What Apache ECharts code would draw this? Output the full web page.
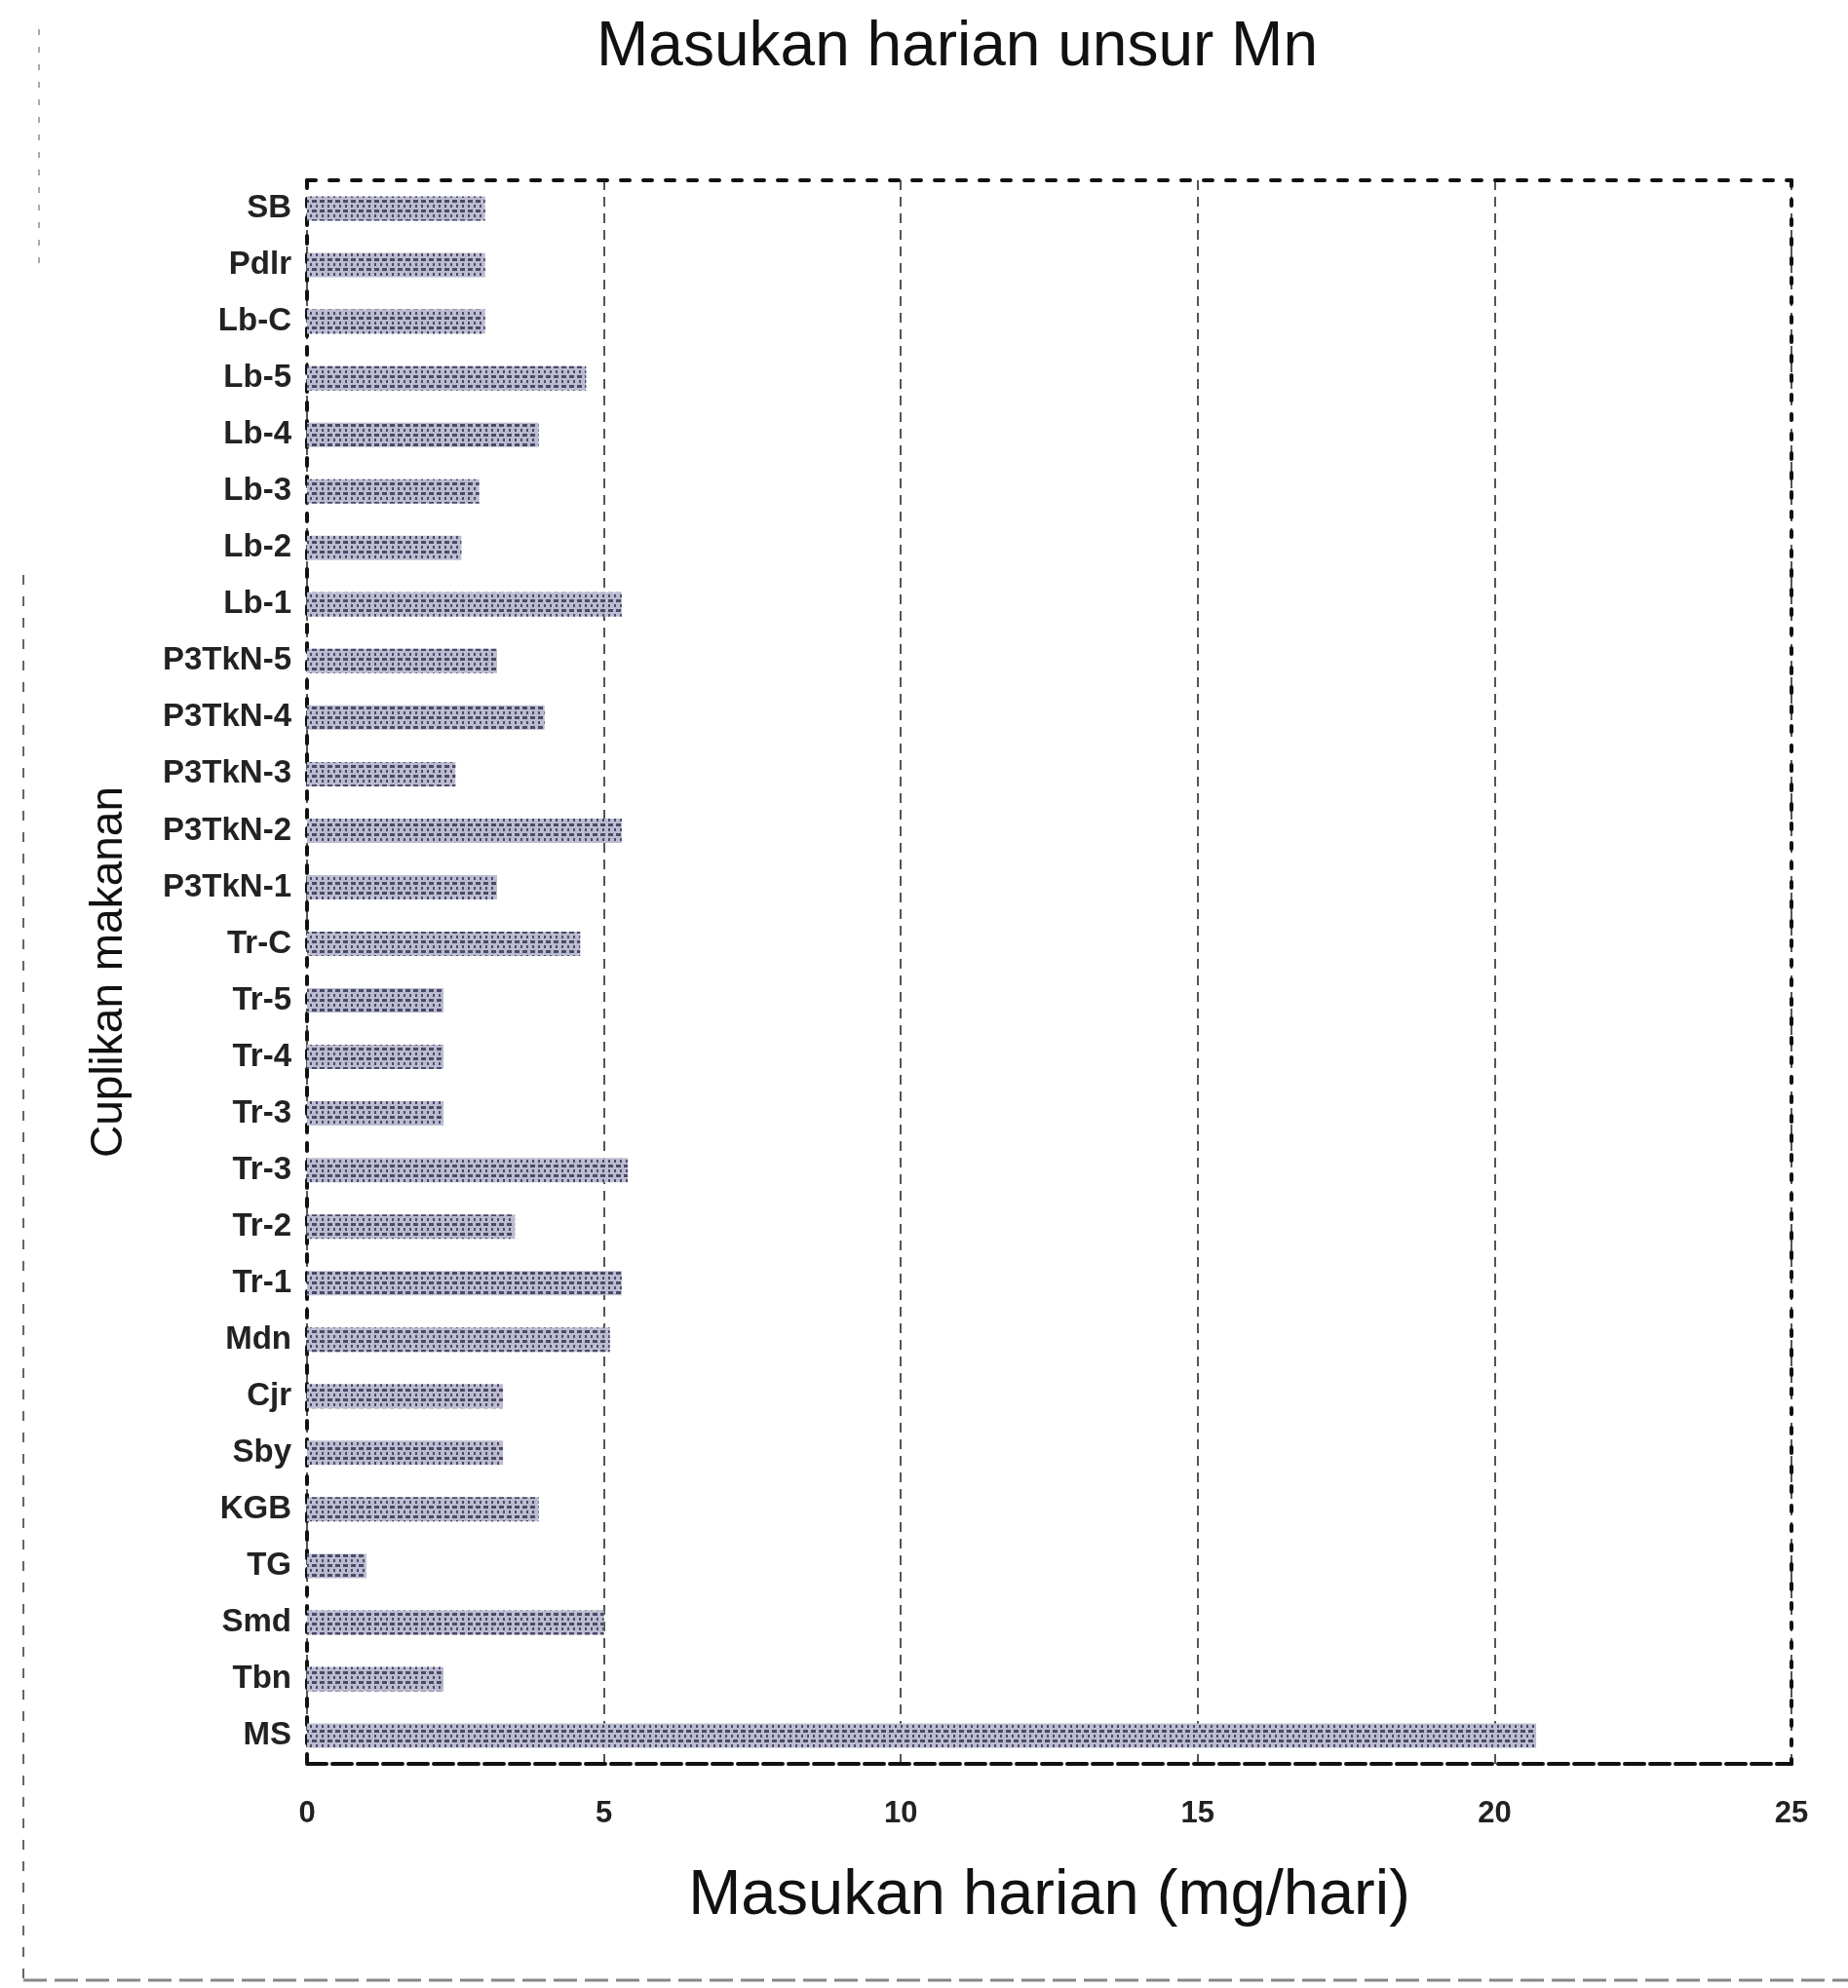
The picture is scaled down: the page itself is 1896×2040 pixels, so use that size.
<!DOCTYPE html>
<html>
<head>
<meta charset="utf-8">
<script src="https://cdn.jsdelivr.net/npm/echarts@6/dist/echarts.min.js"></script>
<style>
html,body{margin:0;padding:0;background:#fff;}
#chart{width:1896px;height:2040px;}
</style>
</head>
<body>
<div id="chart"></div>
<script>
var categories = ['SB','Pdlr','Lb-C','Lb-5','Lb-4','Lb-3','Lb-2','Lb-1','P3TkN-5','P3TkN-4','P3TkN-3','P3TkN-2','P3TkN-1','Tr-C','Tr-5','Tr-4','Tr-3','Tr-3','Tr-2','Tr-1','Mdn','Cjr','Sby','KGB','TG','Smd','Tbn','MS'];
var intakeValues = [3.0,3.0,3.0,4.7,3.9,2.9,2.6,5.3,3.2,4.0,2.5,5.3,3.2,4.6,2.3,2.3,2.3,5.4,3.5,5.3,5.1,3.3,3.3,3.9,1.0,5.0,2.3,20.7];
var xTicks = [0,5,10,15,20,25];

var chart = echarts.init(document.getElementById('chart'), null, {renderer:'canvas'});
var font = '"Liberation Sans", Arial, sans-serif';
chart.setOption({
  backgroundColor:'#ffffff',
  animation:false,
  title:{
    text:'Masukan harian unsur Mn',
    left:977, top:12, textAlign:'center',
    textStyle:{fontFamily:font,fontSize:64,fontWeight:'normal',color:'#111'}
  },
  grid:{left:315,right:58,top:185,bottom:230,containLabel:false},
  xAxis:[{
    type:'value', min:xTicks[0], max:xTicks[xTicks.length-1], interval:5,
    name:'Masukan harian (mg/hari)', nameLocation:'middle', nameGap:104,
    nameTextStyle:{fontFamily:font,fontSize:65,color:'#111'},
    axisLine:{show:true,lineStyle:{color:'#111',width:4,type:[20,6]}},
    axisTick:{show:false},
    axisLabel:{margin:36,fontFamily:font,fontSize:31,fontWeight:'bold',color:'#222'},
    splitLine:{show:true,lineStyle:{color:'#555',width:2,type:[10,7]}}
  },{
    type:'value', position:'top', min:0, max:25, interval:5,
    axisLine:{show:true,lineStyle:{color:'#111',width:4,type:[9,14]}},
    axisTick:{show:false}, axisLabel:{show:false}, splitLine:{show:false}
  }],
  yAxis:[{
    type:'category', data:categories, inverse:true,
    name:'Cuplikan makanan', nameLocation:'middle', nameGap:180, nameRotate:90,
    nameTextStyle:{fontFamily:font,fontSize:46,color:'#111'},
    axisLine:{show:true,onZero:false,lineStyle:{color:'#111',width:4,type:[8,11]}},
    axisTick:{show:false},
    axisLabel:{margin:16,fontFamily:font,fontSize:33,fontWeight:'bold',color:'#222'},
    splitLine:{show:false}
  },{
    type:'category', data:categories, inverse:true, position:'right',
    axisLine:{show:true,onZero:false,lineStyle:{color:'#111',width:4,type:[6,14]}},
    axisTick:{show:false}, axisLabel:{show:false}, splitLine:{show:false}
  }],
  series:[{
    type:'bar', xAxisIndex:0, yAxisIndex:0,
    data:intakeValues, barWidth:25,
    itemStyle:{
      color:'#bcbcd0',
      decal:{symbol:'rect',color:'rgba(45,45,80,0.8)',dashArrayX:[[5,3],[2,4]],dashArrayY:[3,2],symbolSize:1,rotation:0}
    }
  }],
  graphic:[
    {type:'line',shape:{x1:24,y1:590,x2:24,y2:2030},style:{stroke:'#666',lineWidth:2,lineDash:[10,12]}},
    {type:'line',shape:{x1:40,y1:30,x2:40,y2:280},style:{stroke:'#aaa',lineWidth:2,lineDash:[6,12]}},
    {type:'line',shape:{x1:24,y1:2032,x2:1896,y2:2032},style:{stroke:'#888',lineWidth:3,lineDash:[24,8]}}
  ]
});
</script>
</body>
</html>
